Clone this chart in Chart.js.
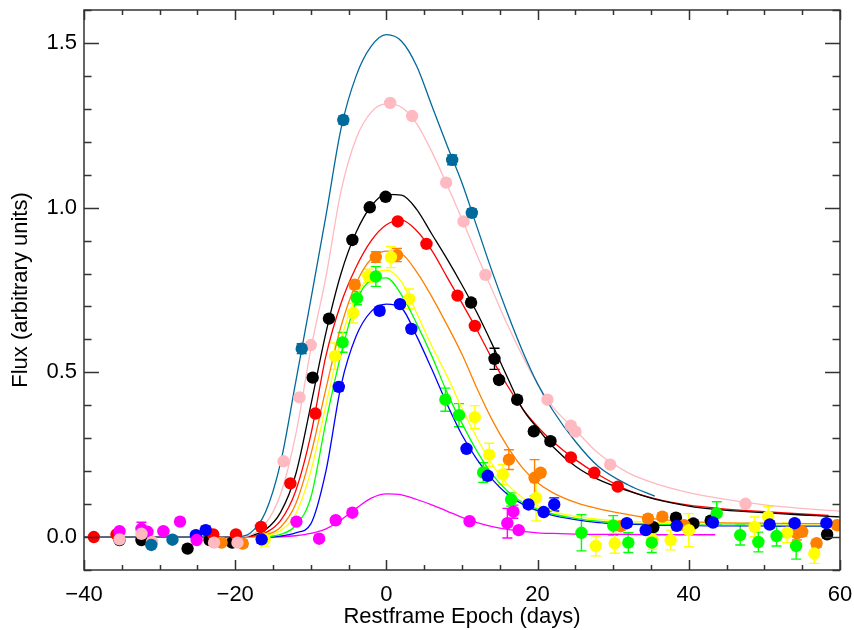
<!DOCTYPE html>
<html>
<head>
<meta charset="utf-8">
<script src="https://cdn.jsdelivr.net/npm/chart.js@4.4.1/dist/chart.umd.min.js"></script>
<style>
  html, body { margin: 0; padding: 0; background: #fff; }
</style>
</head>
<body>
<canvas id="lightCurves" width="854" height="630"></canvas>
<script>
// axis ticks
const xTickValues = [-40, -20, 0, 20, 40, 60];
const xTickLabels = ['\u221240', '\u221220', '0', '20', '40', '60'];
const yTickValues = [0, 0.5, 1.0, 1.5];
const yTickLabels = ['0.0', '0.5', '1.0', '1.5'];
const xMinorTicks = [-35, -30, -25, -15, -10, -5, 5, 10, 15, 25, 30, 35, 45, 50, 55];
const yMinorTicks = [-0.1, 0.1, 0.2, 0.3, 0.4, 0.6, 0.7, 0.8, 0.9, 1.1, 1.2, 1.3, 1.4, 1.6];

// fitted light curves at these epochs
const fitEpochs = [-40, -20, -18, -16, -14, -12, -10, -8, -6, -4, -2, 0, 2, 4, 6, 8, 10, 12, 14, 16, 18, 20, 22, 25, 28, 32, 35.5, 40, 43.5, 50, 55, 58.5, 60];
const fitTeal    = [0, 0, 0.012, 0.075, 0.225, 0.47, 0.72, 0.975, 1.24, 1.40, 1.49, 1.525, 1.505, 1.43, 1.31, 1.19, 1.075, 0.94, 0.805, 0.68, 0.565, 0.465, 0.385, 0.29, 0.215, 0.158, 0.124, null, null, null, null, null, null];
const fitPink    = [0, 0, 0.006, 0.04, 0.13, 0.31, 0.57, 0.79, 1.05, 1.21, 1.29, 1.315, 1.305, 1.255, 1.17, 1.07, 0.965, 0.855, 0.75, 0.645, 0.55, 0.465, 0.395, 0.325, 0.255, 0.195, 0.163, 0.135, 0.12, 0.098, 0.087, 0.081, 0.079];
const fitBlack   = [0, 0, 0.004, 0.022, 0.075, 0.19, 0.40, 0.62, 0.80, 0.925, 1.005, 1.04, 1.038, 0.995, 0.92, 0.845, 0.765, 0.68, 0.585, 0.485, 0.39, 0.33, 0.275, 0.215, 0.175, 0.14, 0.115, 0.094, 0.084, 0.074, 0.067, 0.063, 0.061];
const fitRed     = [0, 0, 0.002, 0.013, 0.05, 0.14, 0.31, 0.55, 0.71, 0.82, 0.90, 0.948, 0.962, 0.93, 0.87, 0.79, 0.71, 0.628, 0.54, 0.46, 0.39, 0.335, 0.29, 0.235, 0.19, 0.142, 0.117, 0.097, 0.088, 0.077, 0.07, 0.066, null];
const fitOrange  = [0, 0, 0.001, 0.006, 0.03, 0.10, 0.25, 0.45, 0.64, 0.77, 0.845, 0.868, 0.86, 0.805, 0.73, 0.645, 0.555, 0.45, 0.355, 0.275, 0.21, 0.165, 0.135, 0.105, 0.086, 0.068, 0.055, 0.047, 0.044, 0.042, 0.041, 0.041, 0.041];
const fitYellow  = [0, 0, 0, 0.003, 0.02, 0.07, 0.20, 0.40, 0.60, 0.73, 0.795, 0.81, 0.775, 0.68, 0.58, 0.49, 0.39, 0.30, 0.22, 0.16, 0.12, 0.095, 0.078, 0.063, 0.054, 0.048, 0.045, 0.043, 0.042, 0.041, 0.04, 0.04, 0.04];
const fitGreen   = [0, 0, 0, 0.001, 0.008, 0.035, 0.12, 0.35, 0.555, 0.715, 0.78, 0.787, 0.735, 0.648, 0.55, 0.44, 0.345, 0.26, 0.19, 0.14, 0.105, 0.085, 0.07, 0.057, 0.048, 0.042, 0.039, 0.037, 0.036, 0.036, 0.035, 0.035, 0.035];
const fitBlue    = [0, 0, 0, 0, 0.003, 0.013, 0.04, 0.20, 0.46, 0.61, 0.685, 0.707, 0.695, 0.61, 0.51, 0.405, 0.31, 0.235, 0.175, 0.13, 0.10, 0.08, 0.066, 0.053, 0.044, 0.039, 0.036, 0.035, 0.034, 0.034, 0.033, 0.033, 0.033];
const fitMagenta = [0, 0, 0, 0, 0.001, 0.004, 0.011, 0.025, 0.052, 0.087, 0.118, 0.131, 0.128, 0.114, 0.098, 0.079, 0.06, 0.044, 0.032, 0.023, 0.017, 0.013, 0.011, 0.009, 0.008, 0.008, 0.007, 0.007, 0.007, null, null, null, null];

// photometry: epoch, flux, error
const tealEpoch = [-31.1, -28.3, -11.2, -5.7, 8.7, 11.3];
const tealFlux  = [-0.024, -0.008, 0.572, 1.266, 1.145, 0.984];
const tealErr   = [0.008, 0.006, 0.015, 0.012, 0.015, 0.012];

const pinkEpoch = [-35.3, -32.4, -31.0, -22.8, -19.7, -13.6, -11.5, -10.0, 0.5, 3.4, 7.9, 10.2, 13.1, 21.3, 24.4, 25.0, 29.6, 47.5];
const pinkFlux  = [-0.007, 0.010, -0.015, -0.017, -0.017, 0.23, 0.424, 0.583, 1.318, 1.278, 1.076, 0.958, 0.796, 0.417, 0.338, 0.32, 0.22, 0.101];
const pinkErr   = [0, 0, 0, 0, 0, 0, 0, 0, 0, 0, 0, 0, 0, 0, 0, 0, 0, 0];

const blackEpoch = [-35.3, -32.4, -26.3, -23.4, -20.4, -9.75, -7.6, -4.5, -2.2, -0.1, 11.2, 14.3, 14.9, 17.3, 19.5, 21.7, 35.3, 38.3, 40.6, 42.9, 58.3];
const blackFlux  = [-0.009, -0.009, -0.035, -0.009, -0.017, 0.484, 0.663, 0.902, 1.001, 1.033, 0.712, 0.541, 0.477, 0.417, 0.321, 0.291, 0.030, 0.059, 0.041, 0.05, 0.008];
const blackErr   = [0.006, 0.006, 0.006, 0.008, 0.008, 0.008, 0.008, 0.008, 0.008, 0.008, 0.01, 0.032, 0.01, 0.01, 0.01, 0.01, 0.01, 0.01, 0.01, 0.01, 0.01];

const redEpoch = [-38.7, -35.7, -22.9, -19.9, -16.6, -12.7, -9.4, 1.5, 5.3, 9.4, 11.7, 24.4, 27.5, 30.6];
const redFlux  = [0, 0.008, 0.008, 0.008, 0.031, 0.163, 0.375, 0.958, 0.89, 0.733, 0.641, 0.242, 0.195, 0.153];
const redErr   = [0, 0, 0, 0, 0, 0, 0, 0, 0, 0, 0, 0, 0, 0];

const orangeEpoch = [-21.8, -19.0, -4.2, -1.4, 1.4, 16.2, 19.6, 20.4, 31.0, 34.6, 36.5, 39.4, 54.3, 55.0, 56.9, 59.6];
const orangeFlux  = [-0.017, -0.02, 0.766, 0.85, 0.856, 0.235, 0.18, 0.195, 0.033, 0.056, 0.062, 0.036, 0.011, 0.016, -0.019, 0.036];
const orangeErr   = [0.008, 0.01, 0.012, 0.016, 0.02, 0.03, 0.055, 0.01, 0.012, 0.012, 0.01, 0.012, 0.02, 0.012, 0.012, 0.01];

const yellowEpoch = [-16.1, -6.8, -4.4, -2.4, 0.6, 3.0, 11.7, 13.6, 15.4, 19.8, 27.7, 30.2, 35.2, 37.6, 40.0, 48.7, 50.5, 53.0, 56.6];
const yellowFlux  = [-0.007, 0.549, 0.68, 0.793, 0.85, 0.723, 0.364, 0.25, 0.19, 0.119, -0.027, -0.019, -0.007, -0.009, 0.021, 0.031, 0.062, 0.013, -0.05];
const yellowErr   = [0.02, 0.04, 0.03, 0.02, 0.032, 0.03, 0.035, 0.035, 0.03, 0.07, 0.03, 0.03, 0.03, 0.03, 0.05, 0.03, 0.03, 0.03, 0.03];

const greenEpoch = [-5.8, -3.9, -1.4, 7.8, 9.6, 12.8, 16.5, 25.8, 30.0, 32.0, 35.1, 43.7, 46.8, 49.2, 51.6, 54.2];
const greenFlux  = [0.591, 0.725, 0.791, 0.417, 0.37, 0.196, 0.114, 0.013, 0.035, -0.017, -0.017, 0.072, 0.006, -0.015, 0.003, -0.027];
const greenErr   = [0.03, 0.02, 0.03, 0.035, 0.035, 0.03, 0.02, 0.055, 0.03, 0.03, 0.03, 0.035, 0.03, 0.03, 0.03, 0.04];

const blueEpoch = [-25.2, -23.9, -16.5, -6.3, -0.9, 1.8, 3.3, 10.6, 13.4, 18.8, 20.8, 22.2, 31.8, 34.3, 38.4, 43.2, 50.7, 54.0, 58.2];
const blueFlux  = [0.006, 0.021, -0.007, 0.456, 0.687, 0.707, 0.632, 0.268, 0.186, 0.099, 0.076, 0.099, 0.042, 0.021, 0.034, 0.044, 0.038, 0.042, 0.042];
const blueErr   = [0.01, 0.012, 0.012, 0.012, 0.01, 0.01, 0.01, 0.008, 0.01, 0.01, 0.01, 0.02, 0.01, 0.01, 0.01, 0.01, 0.01, 0.01, 0.01];

const magentaEpoch = [-35.3, -32.4, -31.6, -29.5, -27.3, -25.1, -11.9, -8.9, -6.7, -4.5, 11.0, 16.0, 16.8, 17.5];
const magentaFlux  = [0.018, 0.025, 0.016, 0.018, 0.047, -0.009, 0.047, -0.005, 0.051, 0.074, 0.048, 0.042, 0.077, 0.021];
const magentaErr   = [0, 0.02, 0, 0, 0, 0, 0, 0, 0, 0, 0, 0.045, 0.02, 0];

const FONT = "'Liberation Sans', Arial, Helvetica, sans-serif";

function fitSet(values, color, order) {
  return {
    data: fitEpochs.map((x, i) => ({ x: x, y: values[i] })),
    showLine: true,
    borderColor: color,
    borderWidth: 1.3,
    pointRadius: 0,
    pointHoverRadius: 0,
    cubicInterpolationMode: 'monotone',
    spanGaps: false,
    order: order
  };
}

function obsSet(epochs, flux, errs, color) {
  return {
    data: epochs.map((x, i) => ({ x: x, y: flux[i] })),
    errs: errs,
    showLine: false,
    backgroundColor: color,
    borderColor: color,
    borderWidth: 0,
    pointRadius: 6.2,
    pointHoverRadius: 6.2,
    order: 0
  };
}

const cTeal = '#006a9c', cPink = '#ffb9c0', cBlack = '#000000', cRed = '#ff0000', cOrange = '#ff7f00',
      cYellow = '#ffff00', cGreen = '#00ff00', cBlue = '#0000ff', cMagenta = '#ff00ff';

// error bars, under the markers
const errorBars = {
  id: 'errorBars',
  beforeDatasetsDraw(chart) {
    const { ctx, chartArea: a, scales: { x, y } } = chart;
    ctx.save();
    ctx.beginPath();
    ctx.rect(a.left, a.top, a.right - a.left, a.bottom - a.top);
    ctx.clip();
    ctx.lineWidth = 1.4;
    chart.data.datasets.forEach(ds => {
      if (!ds.errs) return;
      ctx.strokeStyle = ds.backgroundColor;
      ds.data.forEach((p, i) => {
        const e = ds.errs[i];
        if (!e) return;
        const px = x.getPixelForValue(p.x);
        const top = y.getPixelForValue(p.y + e);
        const bot = y.getPixelForValue(p.y - e);
        ctx.beginPath();
        ctx.moveTo(px, top); ctx.lineTo(px, bot);
        ctx.moveTo(px - 5, top); ctx.lineTo(px + 5, top);
        ctx.moveTo(px - 5, bot); ctx.lineTo(px + 5, bot);
        ctx.stroke();
      });
    });
    ctx.restore();
  }
};

// box with inward ticks on all four sides
const frame = {
  id: 'frame',
  afterDraw(chart) {
    const { ctx, chartArea: a, scales: { x, y } } = chart;
    ctx.save();
    ctx.strokeStyle = '#333';
    ctx.lineWidth = 1.5;
    ctx.strokeRect(a.left, a.top, a.right - a.left, a.bottom - a.top);
    ctx.beginPath();
    const xt = (v, len) => {
      const p = Math.round(x.getPixelForValue(v)) + 0.5;
      ctx.moveTo(p, a.bottom); ctx.lineTo(p, a.bottom - len);
      ctx.moveTo(p, a.top); ctx.lineTo(p, a.top + len);
    };
    const yt = (v, len) => {
      const p = Math.round(y.getPixelForValue(v)) + 0.5;
      ctx.moveTo(a.left, p); ctx.lineTo(a.left + len, p);
      ctx.moveTo(a.right, p); ctx.lineTo(a.right - len, p);
    };
    xTickValues.forEach(v => xt(v, 10));
    xMinorTicks.forEach(v => xt(v, 5));
    yTickValues.forEach(v => yt(v, 15));
    yMinorTicks.forEach(v => yt(v, 7.5));
    ctx.stroke();
    ctx.restore();
  }
};

new Chart(document.getElementById('lightCurves'), {
  type: 'scatter',
  data: {
    datasets: [
      obsSet(tealEpoch, tealFlux, tealErr, cTeal),
      obsSet(pinkEpoch, pinkFlux, pinkErr, cPink),
      obsSet(magentaEpoch, magentaFlux, magentaErr, cMagenta),
      obsSet(blueEpoch, blueFlux, blueErr, cBlue),
      obsSet(greenEpoch, greenFlux, greenErr, cGreen),
      obsSet(yellowEpoch, yellowFlux, yellowErr, cYellow),
      obsSet(orangeEpoch, orangeFlux, orangeErr, cOrange),
      obsSet(redEpoch, redFlux, redErr, cRed),
      obsSet(blackEpoch, blackFlux, blackErr, cBlack),
      fitSet(fitTeal, cTeal, 1),
      fitSet(fitPink, cPink, 2),
      fitSet(fitBlack, cBlack, 3),
      fitSet(fitRed, cRed, 4),
      fitSet(fitOrange, cOrange, 5),
      fitSet(fitYellow, cYellow, 6),
      fitSet(fitGreen, cGreen, 7),
      fitSet(fitBlue, cBlue, 8),
      fitSet(fitMagenta, cMagenta, 9)
    ]
  },
  options: {
    responsive: false,
    animation: false,
    layout: { padding: { top: 10, right: 14, left: 0, bottom: 0 } },
    plugins: { legend: { display: false }, tooltip: { enabled: false } },
    scales: {
      x: {
        type: 'linear',
        min: -40,
        max: 60,
        afterBuildTicks: s => { s.ticks = xTickValues.map(v => ({ value: v })); },
        afterFit: s => { s.height = 60; s.paddingLeft = 0; s.paddingRight = 0; },
        grid: { display: false, drawTicks: false },
        border: { display: false },
        ticks: {
          callback: (v, i) => xTickLabels[i],
          color: '#000',
          font: { family: FONT, size: 22 },
          padding: 12,
          maxRotation: 0,
          autoSkip: false
        },
        title: {
          display: true,
          text: 'Restframe Epoch (days)',
          color: '#000',
          font: { family: FONT, size: 22 },
          padding: { top: 0, bottom: 0 }
        }
      },
      y: {
        type: 'linear',
        min: -0.1,
        max: 1.6,
        afterBuildTicks: s => { s.ticks = yTickValues.map(v => ({ value: v })); },
        afterFit: s => { s.width = 84; s.paddingTop = 0; s.paddingBottom = 0; },
        grid: { display: false, drawTicks: false },
        border: { display: false },
        ticks: {
          callback: (v, i) => yTickLabels[i],
          color: '#000',
          font: { family: FONT, size: 22 },
          padding: 7
        },
        title: {
          display: true,
          text: 'Flux (arbitrary units)',
          color: '#000',
          font: { family: FONT, size: 22 },
          padding: { top: 8, bottom: 0 }
        }
      }
    }
  },
  plugins: [errorBars, frame]
});
</script>
</body>
</html>
